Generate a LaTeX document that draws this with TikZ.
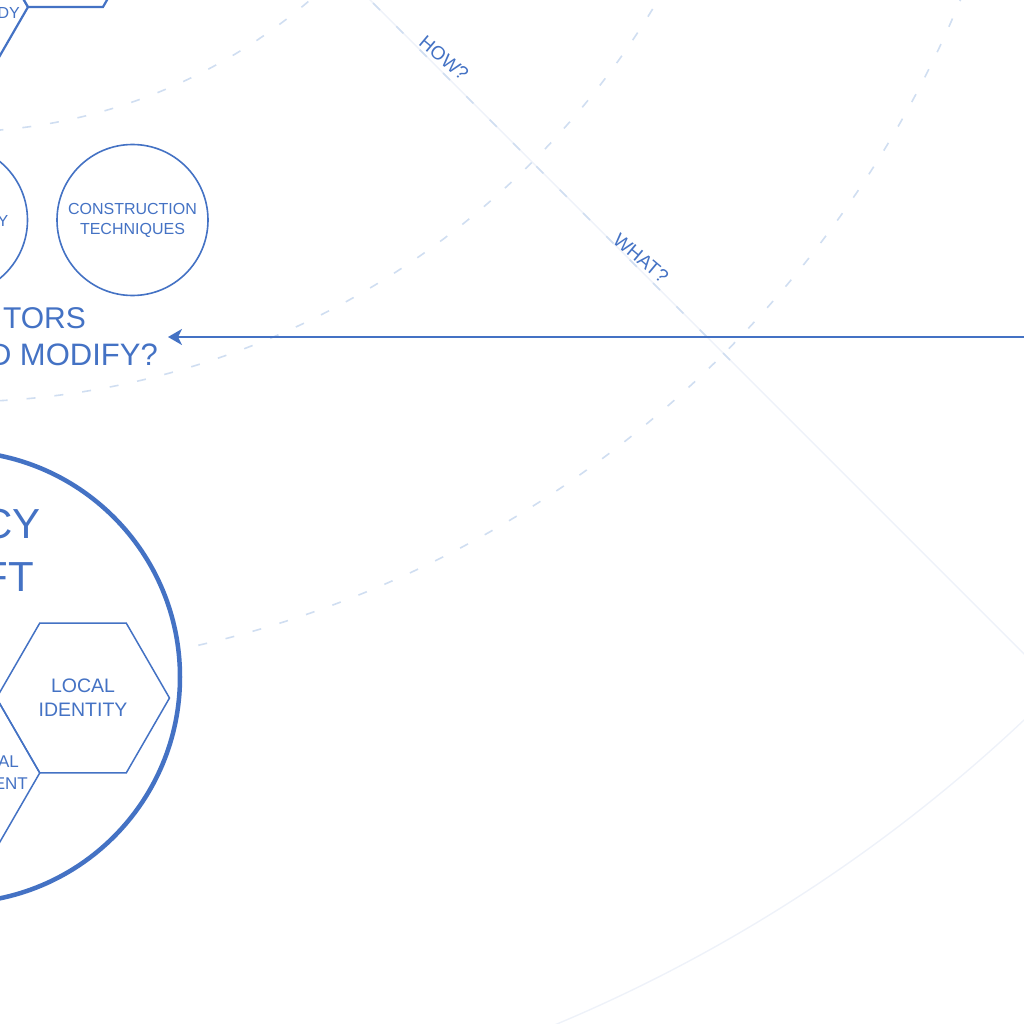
\documentclass[tikz,border=0pt]{standalone}
\usepackage{fontspec}
\setmainfont{Liberation Sans}
\usetikzlibrary{arrows.meta}
\definecolor{mainblue}{HTML}{4472C4}
\definecolor{dashblue}{HTML}{D0DEF1}
\definecolor{faintblue}{HTML}{EEF2F9}
\tikzset{
  ringdash/.style={draw=dashblue, line width=1.6pt, dash pattern=on 9pt off 19pt},
  raydash/.style={draw=dashblue, line width=1.6pt, dash pattern=on 10pt off 23pt},
  faintline/.style={draw=faintblue, line width=1.4pt},
  bluetext/.style={text=mainblue, inner sep=0pt},
  thincirc/.style={circle, draw=mainblue, line width=1.6pt, fill=white, inner sep=0pt, minimum size=151pt, text=mainblue, align=center},
  bigcirc/.style={circle, draw=mainblue, line width=4.5pt, fill=white, inner sep=0pt, minimum size=452pt},
  hexbig/.style={draw=mainblue, line width=2.2pt, fill=white, line join=miter},
  hexsmall/.style={draw=mainblue, line width=1.5pt},
  arrowline/.style={draw=mainblue, line width=2.6pt, -{Stealth[length=14pt,width=16pt,inset=4pt]}},
}
\newcommand\myhex[3]{\draw[#3] (#1) +(0:#2) -- +(60:#2) -- +(120:#2) -- +(180:#2) -- +(240:#2) -- +(300:#2) -- cycle;}
\begin{document}
\begin{tikzpicture}[x=1pt,y=-1pt]
\useasboundingbox (0,0) rectangle (1024,1024);
\clip (0,0) rectangle (1024,1024);
% rings
\coordinate (ctr) at (-47,-417);
\path (ctr) ++(45:1562) coordinate (rayout);
\path (ctr) ++(45:1110) coordinate (raydashend);
\draw[faintline] (ctr) circle[radius=1562];
\draw[faintline] (ctr) -- (rayout);
\draw[ringdash] (ctr) circle[radius=549];
\draw[ringdash] (ctr) circle[radius=819];
\draw[ringdash] (ctr) circle[radius=1090];
\draw[raydash] (ctr) -- (raydashend);
\node[bluetext, rotate=-40, font=\fontsize{19}{22}\selectfont] (how) at (444,58) {HOW?};
\node[bluetext, rotate=-40, font=\fontsize{19}{22}\selectfont] (what) at (641,258) {WHAT?};
% top-left hexagons
\coordinate (h1) at (-47,7);
\coordinate (h2) at (65.5,-58);
\myhex{h1}{75}{hexbig}
\myhex{h2}{75}{hexbig}
\node[bluetext, anchor=base east, font=\fontsize{16}{20}\selectfont] (dy) at (20,18.5) {DY};
% circles row
\node[thincirc] (leftc) at (-48,220) {};
\node[bluetext, anchor=base east, font=\fontsize{16}{20}\selectfont] (ly) at (8.5,226) {Y};
\node[thincirc, font=\fontsize{16}{20}\selectfont] (constr) at (132.5,220) {CONSTRUCTION\\TECHNIQUES};
% question text
\node[bluetext, anchor=base east, font=\fontsize{30}{36}\selectfont] (tors) at (86,328) {TORS};
\node[bluetext, anchor=base east, font=\fontsize{31}{36}\selectfont] (modify) at (158,365) {D MODIFY?};
% big circle with hexagons
\node[bigcirc] (bigc) at (-46,677) {};
\coordinate (loc) at (83,698);
\coordinate (l2) at (-46.75,772.9);
\myhex{loc}{86.5}{hexsmall}
\myhex{l2}{86.5}{hexsmall}
\node[bluetext, align=center, font=\fontsize{19.5}{24}\selectfont] (locid) at (83,698) {LOCAL\\IDENTITY};
\node[bluetext, anchor=base east, font=\fontsize{17}{20}\selectfont] (al) at (19,767) {AL};
\node[bluetext, anchor=base east, font=\fontsize{17}{20}\selectfont] (ent) at (28,789) {ENT};
\node[bluetext, anchor=base east, font=\fontsize{42}{50}\selectfont] (cy) at (41,538) {CY};
\node[bluetext, anchor=base east, font=\fontsize{42}{50}\selectfont] (ft) at (34,591) {FT};
% arrow
\coordinate (arrowfrom) at (1034,337);
\coordinate (arrowto) at (168,337);
\draw[arrowline] (arrowfrom) -- (arrowto);
\end{tikzpicture}
\end{document}
